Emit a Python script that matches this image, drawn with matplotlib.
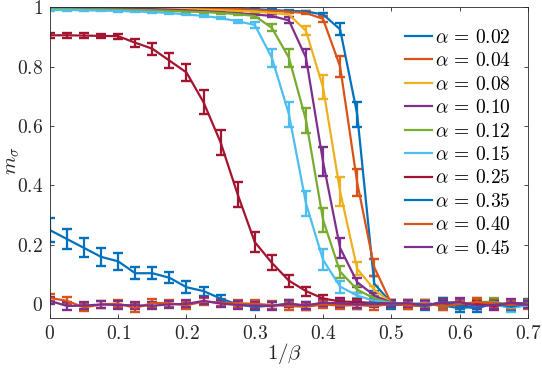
import numpy as np
import matplotlib
matplotlib.use("Agg")
import matplotlib.pyplot as plt

plt.rcParams['mathtext.fontset'] = 'cm'
plt.rcParams['font.family'] = 'serif'
plt.rcParams['font.serif'] = ['cmr10', 'DejaVu Serif']
plt.rcParams['axes.formatter.use_mathtext'] = True

# data: magnetisation vs 1/beta, one series per alpha
inv_beta = np.linspace(0, 0.7, 29)
alphas = ['0.02', '0.04', '0.08', '0.10', '0.12', '0.15', '0.25', '0.35', '0.40', '0.45']

m_002 = [1.0, 1.0, 1.0, 1.0, 1.0, 1.0, 0.999, 0.999, 0.998, 0.997, 0.996, 0.995, 0.993,
         0.99, 0.987, 0.985, 0.975, 0.925, 0.64, 0.07, 0.005,
         -0.002, 0.004, -0.003, -0.013, -0.006, 0.002, -0.004, 0.008]
e_002 = [0.003] * 16 + [0.006, 0.02, 0.042, 0.025, 0.008,
                        0.01, 0.01, 0.012, 0.012, 0.01, 0.01, 0.012, 0.01]

m_004 = [1.0, 1.0, 1.0, 1.0, 1.0, 0.999, 0.999, 0.998, 0.997, 0.996, 0.995, 0.993, 0.99,
         0.987, 0.984, 0.98, 0.96, 0.80, 0.41, 0.125, 0.003,
         -0.004, -0.006, 0.008, -0.002, 0.006, -0.003, 0.002, -0.005]
e_004 = [0.003] * 15 + [0.005, 0.01, 0.034, 0.045, 0.028, 0.008,
                        0.01, 0.01, 0.012, 0.01, 0.012, 0.01, 0.01, 0.01]

m_008 = [0.998, 0.998, 0.998, 0.997, 0.997, 0.996, 0.995, 0.994, 0.993, 0.991, 0.989, 0.987, 0.985,
         0.98, 0.975, 0.92, 0.73, 0.38, 0.12, 0.05, 0.005,
         0.002, -0.005, 0.004, 0.006, -0.002, 0.003, -0.006, 0.001]
e_008 = [0.003] * 14 + [0.008, 0.015, 0.04, 0.05, 0.022, 0.012, 0.008,
                        0.01, 0.01, 0.012, 0.01, 0.01, 0.01, 0.01, 0.01]

m_010 = [0.997, 0.997, 0.996, 0.996, 0.995, 0.994, 0.993, 0.991, 0.989, 0.986, 0.983, 0.979, 0.975,
         0.97, 0.955, 0.83, 0.48, 0.19, 0.075, 0.03, 0.006,
         -0.003, 0.002, -0.004, 0.005, 0.003, -0.005, 0.006, 0.002]
e_010 = [0.003] * 13 + [0.005, 0.01, 0.03, 0.048, 0.035, 0.015, 0.01, 0.008,
                        0.01, 0.01, 0.012, 0.01, 0.01, 0.012, 0.01, 0.01]

m_012 = [0.993, 0.993, 0.992, 0.992, 0.991, 0.99, 0.989, 0.987, 0.985, 0.983, 0.98, 0.976, 0.97,
         0.93, 0.83, 0.62, 0.285, 0.11, 0.05, 0.02, 0.005,
         0.004, -0.004, 0.002, -0.003, 0.008, 0.009, -0.002, 0.003]
e_012 = [0.003] * 12 + [0.006, 0.012, 0.03, 0.042, 0.04, 0.02, 0.012, 0.01, 0.008,
                        0.01, 0.01, 0.01, 0.012, 0.012, 0.012, 0.01, 0.01]

m_015 = [0.99, 0.99, 0.989, 0.988, 0.987, 0.985, 0.983, 0.98, 0.975, 0.97, 0.963, 0.952, 0.94,
         0.83, 0.64, 0.34, 0.15, 0.06, 0.03, 0.012, 0.005,
         0.001, 0.006, -0.005, 0.003, -0.004, 0.0, -0.012, -0.003]
e_015 = [0.003] * 11 + [0.006, 0.01, 0.03, 0.042, 0.042, 0.035, 0.02, 0.01, 0.01, 0.008,
                        0.01, 0.01, 0.012, 0.01, 0.01, 0.01, 0.012, 0.01]

m_025 = [0.905, 0.905, 0.904, 0.903, 0.902, 0.88, 0.86, 0.82, 0.78, 0.68, 0.545, 0.37, 0.21,
         0.14, 0.08, 0.045, 0.02, 0.01, 0.008, 0.005, 0.003,
         0.0, -0.002, 0.004, -0.003, 0.002, -0.004, 0.001, 0.0]
e_025 = [0.008, 0.008, 0.008, 0.008, 0.009, 0.014, 0.02, 0.025, 0.03, 0.04, 0.042, 0.042, 0.035,
         0.025, 0.02, 0.015, 0.012, 0.01, 0.01, 0.01, 0.01,
         0.01, 0.01, 0.01, 0.01, 0.01, 0.01, 0.01, 0.01]

m_035 = [0.25, 0.22, 0.19, 0.16, 0.145, 0.105, 0.105, 0.09, 0.058, 0.045, 0.02, 0.0, -0.008,
         -0.004, 0.003, -0.005, 0.004, 0.002, -0.002, 0.006, -0.004,
         0.003, -0.006, 0.01, -0.004, -0.014, 0.004, -0.008, 0.004]
e_035 = [0.04, 0.035, 0.032, 0.03, 0.028, 0.02, 0.02, 0.018, 0.02, 0.015, 0.012, 0.012, 0.012,
         0.012, 0.012, 0.012, 0.012, 0.012, 0.012, 0.012, 0.012,
         0.012, 0.012, 0.012, 0.012, 0.012, 0.012, 0.012, 0.012]

m_040 = [0.022, 0.012, -0.01, 0.0, 0.003, -0.012, 0.005, 0.004, -0.003, 0.01, 0.006, 0.004, 0.002,
         -0.002, -0.005, -0.008, 0.0, -0.004, -0.002, -0.006, 0.002,
         -0.003, 0.004, -0.006, 0.001, 0.008, 0.004, -0.002, 0.003]
e_040 = [0.012] * 29

m_045 = [0.012, -0.005, -0.004, 0.0, -0.002, -0.003, -0.004, 0.0, 0.002, 0.012, 0.003, -0.002, -0.004,
         -0.005, 0.002, -0.003, 0.006, 0.004, 0.0, 0.002, 0.003,
         0.004, -0.002, 0.006, 0.008, -0.004, -0.002, 0.005, -0.001]
e_045 = [0.012] * 29

series = [m_002, m_004, m_008, m_010, m_012, m_015, m_025, m_035, m_040, m_045]
errors = [e_002, e_004, e_008, e_010, e_012, e_015, e_025, e_035, e_040, e_045]

# matlab colours, last three reuse blue / orange / purple
colors = ['#0072BD', '#D95319', '#EDB120', '#7E2F8E', '#77AC30', '#4DBEEE', '#A2142F',
          '#0072BD', '#D95319', '#7E2F8E']

fig = plt.figure(figsize=(5.42, 3.70), dpi=100)
ax = fig.add_axes([0.092, 0.141, 0.882, 0.840])

handles = []
labels = []
for m, e, a, c in zip(series, errors, alphas, colors):
    eb = ax.errorbar(inv_beta, m, yerr=e, color=c, lw=1.6, elinewidth=1.6,
                     capsize=3.8, capthick=1.7)
    handles.append(eb[0])
    labels.append(r'$\alpha\,=\,%s$' % a)

ax.set_xlim(0, 0.7)
ax.set_ylim(-0.045, 1.0)
xt = [0, 0.1, 0.2, 0.3, 0.4, 0.5, 0.6, 0.7]
yt = [0, 0.2, 0.4, 0.6, 0.8, 1]
ax.set_xticks(xt)
ax.set_xticklabels(['$%g$' % v for v in xt])
ax.set_yticks(yt)
ax.set_yticklabels(['$%g$' % v for v in yt])
ax.tick_params(direction='in', length=3, width=0.6, top=True, right=True,
               labelsize=14, colors='#262626', pad=5)
for s in ax.spines.values():
    s.set_linewidth(0.6)
    s.set_color('#262626')

ax.set_xlabel(r'$1/\beta$', fontsize=15, color='#262626')
ax.xaxis.set_label_coords(0.49, -0.075)
ax.set_ylabel(r'$m_\sigma$', fontsize=15, color='#262626')
ax.yaxis.set_label_coords(-0.06, 0.505)

leg = ax.legend(handles, labels, loc='upper left', bbox_to_anchor=(0.743, 0.93), frameon=False,
                fontsize=14, handlelength=1.4, handletextpad=0.15, labelspacing=0.28,
                borderpad=0, borderaxespad=0)

fig.savefig('out.png', dpi=100)
